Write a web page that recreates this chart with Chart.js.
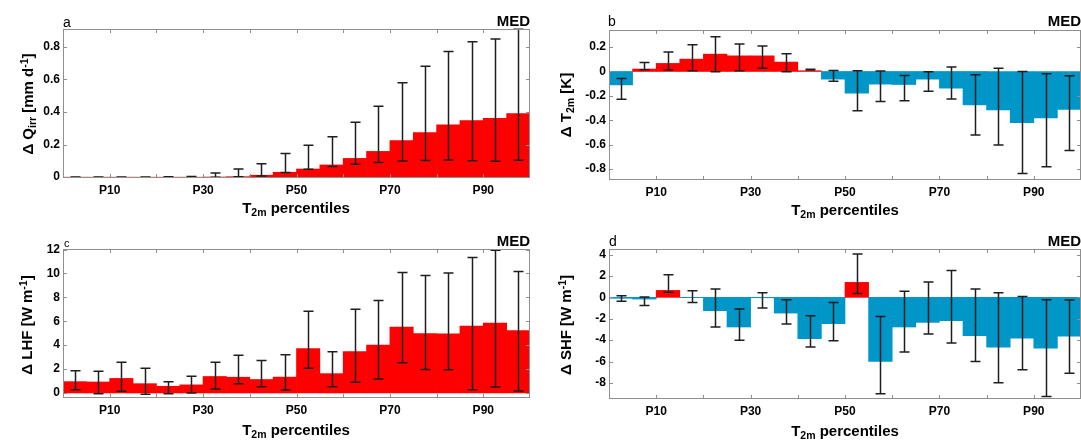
<!DOCTYPE html>
<html>
<head>
<meta charset="utf-8">
<script src="https://cdn.jsdelivr.net/npm/chart.js@4.4.1/dist/chart.umd.min.js"></script>
<style>
html, body { margin: 0; padding: 0; background: #fff; }
body { width: 1081px; height: 440px; overflow: hidden; position: relative;
       font-family: "Liberation Sans", Arial, sans-serif; color: #000; }
canvas { position: absolute; }
.lbl { position: absolute; white-space: nowrap; line-height: 1; }
.lbl sub, .lbl sup { font-size: 0.7em; vertical-align: baseline; position: relative; }
.lbl sub { top: 0.32em; }
.lbl sup { top: -0.45em; }
.letter { font-size: 14px; }
.med { font-size: 15px; font-weight: bold; transform: translateX(-100%); }
.xtitle { font-size: 15px; font-weight: bold; transform: translateX(-50%); }
.ytitle { font-size: 15px; font-weight: bold; transform: translate(-50%, -50%) rotate(-90deg); }
</style>
</head>
<body>
<canvas id="panel-a"></canvas>
<canvas id="panel-b"></canvas>
<canvas id="panel-c"></canvas>
<canvas id="panel-d"></canvas>

<div class="lbl letter" style="left:63px;top:15px">a</div>
<div class="lbl letter" style="left:608px;top:14px">b</div>
<div class="lbl letter" style="left:64px;top:238px;font-size:11px">c</div>
<div class="lbl letter" style="left:609px;top:234px">d</div>

<div class="lbl med" style="left:530px;top:13px">MED</div>
<div class="lbl med" style="left:1081px;top:13px">MED</div>
<div class="lbl med" style="left:530px;top:233px">MED</div>
<div class="lbl med" style="left:1081px;top:233px">MED</div>

<div class="lbl xtitle" style="left:296px;top:200px">T<sub>2m</sub> percentiles</div>
<div class="lbl xtitle" style="left:845px;top:202px">T<sub>2m</sub> percentiles</div>
<div class="lbl xtitle" style="left:296px;top:422px">T<sub>2m</sub> percentiles</div>
<div class="lbl xtitle" style="left:845px;top:423px">T<sub>2m</sub> percentiles</div>

<div class="lbl ytitle" style="left:27px;top:104px">Δ Q<sub>irr</sub> [mm d<sup>-1</sup>]</div>
<div class="lbl ytitle" style="left:565px;top:105px">Δ T<sub>2m</sub> [K]</div>
<div class="lbl ytitle" style="left:26px;top:325px">Δ LHF [W m<sup>-1</sup>]</div>
<div class="lbl ytitle" style="left:565px;top:325px">Δ SHF [W m<sup>-1</sup>]</div>

<script>
// percentile bins (centre of each 5 % bin)
const binCenters = [2.5, 7.5, 12.5, 17.5, 22.5, 27.5, 32.5, 37.5, 42.5, 47.5,
                    52.5, 57.5, 62.5, 67.5, 72.5, 77.5, 82.5, 87.5, 92.5, 97.5];
const xLabelTicks = [10, 30, 50, 70, 90];
const xTickMarks = [10, 20, 30, 40, 50, 60, 70, 80, 90];

// a: irrigation
const qirrMean = [0, 0, 0, 0, 0, 0, 0.001, 0.003, 0.012, 0.03,
                  0.05, 0.075, 0.115, 0.158, 0.224, 0.273, 0.321, 0.347, 0.361, 0.39];
const qirrLow  = [0, 0, 0, 0, 0, 0, 0, 0.003, 0.008, 0.028,
                  0.048, 0.065, 0.08, 0.09, 0.099, 0.102, 0.105, 0.1, 0.098, 0.104];
const qirrHigh = [0.001, 0.001, 0.001, 0.001, 0.002, 0.004, 0.025, 0.05, 0.083, 0.145,
                  0.195, 0.248, 0.337, 0.435, 0.578, 0.679, 0.77, 0.83, 0.846, 0.906];
const qirrTicks = [0, 0.2, 0.4, 0.6, 0.8];

// b: 2 m temperature
const t2mMean = [-0.11, 0.02, 0.066, 0.101, 0.142, 0.128, 0.128, 0.077, 0.006, -0.063,
                 -0.178, -0.104, -0.107, -0.063, -0.137, -0.274, -0.315, -0.419, -0.381, -0.312];
const t2mLow  = [-0.227, 0.014, 0.011, 0.005, -0.003, 0.005, 0.027, -0.003, 0.011, -0.08,
                 -0.323, -0.247, -0.241, -0.162, -0.225, -0.521, -0.603, -0.836, -0.781, -0.649];
const t2mHigh = [-0.058, 0.074, 0.159, 0.219, 0.285, 0.225, 0.208, 0.145, 0.019, 0.008,
                 0.005, 0.003, -0.033, -0.003, 0.036, -0.027, 0.027, 0.0, -0.019, -0.036];
const t2mTicks = [-0.8, -0.6, -0.4, -0.2, 0, 0.2];

// c: latent heat flux
const lhfMean = [0.95, 0.92, 1.22, 0.78, 0.56, 0.68, 1.38, 1.32, 1.13, 1.33,
                 3.72, 1.62, 3.47, 4.0, 5.52, 4.97, 4.96, 5.6, 5.86, 5.23];
const lhfLow  = [0.28, -0.06, 0.14, -0.11, -0.06, 0.0, 0.33, 0.78, 0.53, 0.25,
                 2.07, 0.53, 0.89, 1.17, 2.52, 1.97, 1.95, 0.26, 0.5, 0.16];
const lhfHigh = [1.87, 1.81, 2.57, 2.07, 0.95, 1.4, 2.57, 3.15, 2.71, 3.21,
                 6.84, 3.46, 7.0, 7.73, 10.08, 9.83, 10.05, 11.34, 11.95, 10.17];
const lhfTicks = [0, 2, 4, 6, 8, 10, 12];

// d: sensible heat flux
const shfMean = [-0.09, -0.16, 0.65, -0.03, -1.25, -2.77, -0.04, -1.47, -3.87, -2.46,
                 1.4, -5.99, -2.77, -2.34, -2.18, -3.57, -4.66, -3.82, -4.74, -3.62];
const shfLow  = [-0.37, -0.75, 0.47, -0.47, -2.77, -4.02, -1.0, -2.49, -4.64, -4.05,
                 0.37, -9.0, -5.11, -3.43, -4.27, -5.99, -7.97, -6.76, -9.26, -7.09];
const shfHigh = [0.16, 0.03, 2.12, 0.62, 0.78, -1.09, 0.44, -0.22, -1.71, -0.47,
                 4.05, -1.78, 0.56, 1.43, 2.52, 0.77, 0.43, 0.09, -0.22, -0.24];
const shfTicks = [-8, -6, -4, -2, 0, 2, 4];

const RED = "#ff0000";
const BLUE = "#0096c8";

Chart.defaults.font.family = '"Liberation Sans", Arial, sans-serif';
Chart.defaults.font.size = 12;
Chart.defaults.font.weight = "bold";
Chart.defaults.color = "#000";

function errorBars(low, high) {
    return {
        id: "errorBars",
        afterDatasetsDraw(chart) {
            const { ctx, scales: { x, y } } = chart;
            ctx.save();
            ctx.strokeStyle = "#1e1e1e";
            ctx.lineWidth = 1.5;
            binCenters.forEach((c, i) => {
                const px = Math.round(x.getPixelForValue(c)) + 0.5;
                const y1 = y.getPixelForValue(low[i]);
                const y2 = y.getPixelForValue(high[i]);
                ctx.beginPath();
                ctx.moveTo(px, y1); ctx.lineTo(px, y2);
                ctx.moveTo(px - 5, y1); ctx.lineTo(px + 5, y1);
                ctx.moveTo(px - 5, y2); ctx.lineTo(px + 5, y2);
                ctx.stroke();
            });
            ctx.restore();
        }
    };
}

function frame(yTicks) {
    return {
        id: "frame",
        afterDraw(chart) {
            const { ctx, chartArea: a, scales: { x, y } } = chart;
            ctx.save();
            ctx.strokeStyle = "#8f8f8f";
            ctx.lineWidth = 1;
            ctx.strokeRect(a.left + 0.5, a.top + 0.5, a.right - a.left - 1, a.bottom - a.top - 1);
            ctx.beginPath();
            xTickMarks.forEach(v => {
                const px = Math.round(x.getPixelForValue(v)) + 0.5;
                ctx.moveTo(px, a.top); ctx.lineTo(px, a.top + 4);
                ctx.moveTo(px, a.bottom); ctx.lineTo(px, a.bottom - 4);
            });
            yTicks.forEach(v => {
                const py = Math.round(y.getPixelForValue(v)) + 0.5;
                ctx.moveTo(a.left, py); ctx.lineTo(a.left + 4, py);
                ctx.moveTo(a.right, py); ctx.lineTo(a.right - 4, py);
            });
            ctx.stroke();
            ctx.restore();
        }
    };
}

// box: canvas origin (x0, y0), height h, and the plot area in page pixels
function makePanel(id, box, yMin, yMax, yTicks, mean, low, high) {
    const canvas = document.getElementById(id);
    canvas.style.left = box.x0 + "px";
    canvas.style.top = box.y0 + "px";
    canvas.width = box.right - box.x0;
    canvas.height = box.h;

    return new Chart(canvas.getContext("2d"), {
        type: "bar",
        data: {
            datasets: [{
                data: binCenters.map((c, i) => ({ x: c, y: mean[i] })),
                backgroundColor: mean.map(v => v >= 0 ? RED : BLUE),
                borderWidth: 0,
                barPercentage: 1,
                categoryPercentage: 1
            }]
        },
        options: {
            responsive: false,
            animation: false,
            devicePixelRatio: 1,
            layout: { padding: { top: box.top - box.y0, left: 0, right: 0, bottom: 0 } },
            plugins: {
                legend: { display: false },
                tooltip: { enabled: false }
            },
            scales: {
                x: {
                    type: "linear",
                    min: 0,
                    max: 100,
                    offset: false,
                    grid: { display: false, drawTicks: false },
                    border: { display: false },
                    afterBuildTicks: s => { s.ticks = xLabelTicks.map(v => ({ value: v })); },
                    afterFit: s => { s.height = box.h - (box.bottom - box.y0); },
                    ticks: { callback: v => "P" + v, padding: 5, maxRotation: 0, autoSkip: false }
                },
                y: {
                    min: yMin,
                    max: yMax,
                    grid: { display: false, drawTicks: false },
                    border: { display: false },
                    afterBuildTicks: s => { s.ticks = yTicks.map(v => ({ value: v })); },
                    afterFit: s => { s.width = box.left - box.x0; },
                    ticks: { callback: v => String(v), padding: 3 }
                }
            }
        },
        plugins: [errorBars(low, high), frame(yTicks)]
    });
}

makePanel("panel-a", { x0: 0, y0: 0, h: 220, left: 63, top: 29, right: 530, bottom: 178 },
          -0.005, 0.908, qirrTicks, qirrMean, qirrLow, qirrHigh);
makePanel("panel-b", { x0: 540, y0: 0, h: 220, left: 609, top: 30, right: 1081, bottom: 180 },
          -0.89, 0.34, t2mTicks, t2mMean, t2mLow, t2mHigh);
makePanel("panel-c", { x0: 0, y0: 220, h: 220, left: 63, top: 249, right: 530, bottom: 398 },
          -0.42, 12.05, lhfTicks, lhfMean, lhfLow, lhfHigh);
makePanel("panel-d", { x0: 540, y0: 220, h: 220, left: 609, top: 249, right: 1081, bottom: 399 },
          -9.5, 4.52, shfTicks, shfMean, shfLow, shfHigh);
</script>
</body>
</html>
